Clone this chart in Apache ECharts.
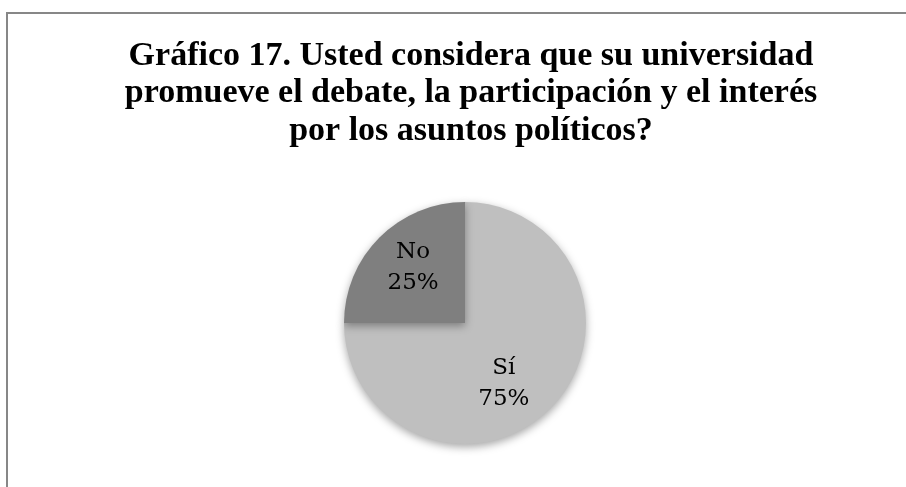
<!DOCTYPE html>
<html>
<head>
<meta charset="utf-8">
<script src="https://cdn.jsdelivr.net/npm/echarts@6/dist/echarts.min.js"></script>
<style>html,body{margin:0;padding:0;background:#fff;}#c{width:906px;height:487px;}</style>
</head>
<body>
<div id="c"></div>
<script>
const titleText = "Gráfico 17. Usted considera que su universidad\npromueve el debate, la participación y el interés\npor los asuntos políticos?";
const categories = ["Sí", "No"];
const values = [75, 25];
const sliceColors = ["#bfbfbf", "#7f7f7f"];
const labelOffsets = [[-6, 16], [-7, -11]];

const chart = echarts.init(document.getElementById('c'), null, {renderer: 'canvas'});
chart.setOption({
  backgroundColor: '#ffffff',
  animation: false,
  title: {
    text: titleText,
    left: 466,
    textAlign: 'center',
    top: 32,
    textStyle: {
      fontFamily: 'Liberation Serif',
      fontWeight: 'bold',
      fontSize: 34,
      lineHeight: 37.5,
      color: '#000'
    }
  },
  graphic: [{
    type: 'rect',
    shape: {x: 7, y: 13, width: 1000, height: 600},
    style: {fill: 'none', stroke: '#878787', lineWidth: 2},
    silent: true
  }],
  series: [{
    type: 'pie',
    center: [465, 323],
    radius: [0, 121],
    startAngle: 90,
    clockwise: true,
    data: categories.map((c, i) => ({
      name: c,
      value: values[i],
      itemStyle: {color: sliceColors[i]},
      label: {offset: labelOffsets[i]}
    })),
    itemStyle: {
      borderWidth: 0,
      shadowBlur: 8,
      shadowOffsetY: 3,
      shadowColor: 'rgba(0,0,0,0.35)'
    },
    label: {
      show: true,
      position: 'inside',
      formatter: p => p.name + '\n' + Math.round(p.percent) + '%',
      fontFamily: 'DejaVu Serif',
      fontSize: 23,
      lineHeight: 31,
      color: '#000'
    },
    labelLine: {show: false},
    emphasis: {disabled: true}
  }]
});
</script>
</body>
</html>
